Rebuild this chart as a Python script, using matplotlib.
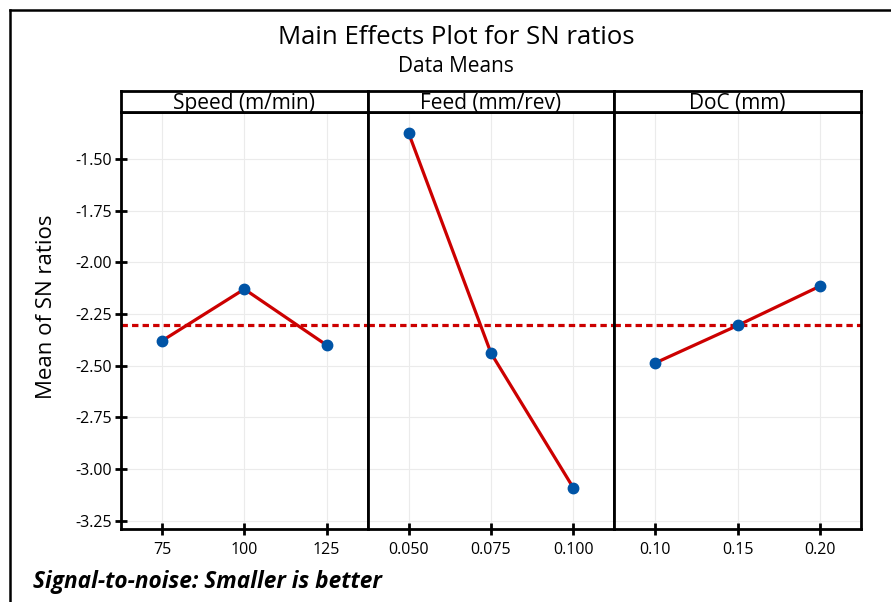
import matplotlib
matplotlib.use("Agg")
import matplotlib.pyplot as plt
import numpy as np
from matplotlib.lines import Line2D

# ---- data ----
factor_names = ["Speed (m/min)", "Feed (mm/rev)", "DoC (mm)"]
speed_levels = ["75", "100", "125"]
speed_sn = [-2.379, -2.129, -2.400]
feed_levels = ["0.050", "0.075", "0.100"]
feed_sn = [-1.376, -2.439, -3.090]
doc_levels = ["0.10", "0.15", "0.20"]
doc_sn = [-2.486, -2.305, -2.115]
y_ticks = [-1.50, -1.75, -2.00, -2.25, -2.50, -2.75, -3.00, -3.25]

levels = [speed_levels, feed_levels, doc_levels]
values = [speed_sn, feed_sn, doc_sn]
overall_mean = float(np.mean(speed_sn + feed_sn + doc_sn))

plt.rcParams['font.family'] = ['Open Sans', 'DejaVu Sans']

W, H = 891, 602
fig = plt.figure(figsize=(W / 100, H / 100), dpi=100)

left_px, right_px = 121, 861
top_px, bottom_px = 112, 529
strip_top_px = 91
panel_w = (right_px - left_px) / 3

red = "#CC0000"
blue = "#0054A6"

axes = []
for i in range(3):
    x0 = (left_px + i * panel_w) / W
    ax = fig.add_axes([x0, 1 - bottom_px / H, panel_w / W, (bottom_px - top_px) / H])
    axes.append(ax)
    xs = np.arange(len(levels[i]))
    ax.axhline(overall_mean, color=red, lw=2.3, ls=(0, (2.0, 1.3)), zorder=2)
    ax.plot(xs, values[i], color=red, lw=2.3, zorder=3)
    ax.plot(xs, values[i], 'o', color=blue, ms=7.5, zorder=4)
    ax.set_xlim(-0.5, 2.5)
    ax.set_ylim(-3.29, -1.272)
    ax.set_xticks(xs)
    ax.set_xticklabels(levels[i], fontsize=11.5)
    ax.set_yticks(y_ticks)
    ax.grid(True, color="#EBEBEB", lw=0.8, zorder=0)
    ax.set_axisbelow(True)
    for s in ax.spines.values():
        s.set_linewidth(2.0)
        s.set_color("black")
    ax.tick_params(axis='x', direction='inout', length=9, width=2.0, pad=5)
    if i == 0:
        ax.set_yticklabels([f"{v:.2f}" for v in y_ticks], fontsize=11.5)
        ax.tick_params(axis='y', direction='inout', length=9, width=2.0, pad=2)
        ax.set_ylabel("Mean of SN ratios", fontsize=16)
        ax.yaxis.set_label_coords(-0.26, 0.532)
    else:
        ax.tick_params(axis='y', left=False, labelleft=False)

    # strip
    sax = fig.add_axes([x0, 1 - top_px / H, panel_w / W, (top_px - strip_top_px) / H])
    sax.set_xticks([])
    sax.set_yticks([])
    for s in sax.spines.values():
        s.set_linewidth(2.0)
        s.set_color("black")
    sax.text(0.5, 0.40, factor_names[i], ha='center', va='center', fontsize=15,
             transform=sax.transAxes)

fig.text(456 / W, 1 - 38 / H, "Main Effects Plot for SN ratios", ha='center', va='center',
         fontsize=18.5)
fig.text(456 / W, 1 - 66 / H, "Data Means", ha='center', va='center', fontsize=15)
fig.text(33 / W, 1 - 582 / H, "Signal-to-noise: Smaller is better", ha='left', va='center',
         fontsize=16.3, fontweight='bold', fontstyle='italic')

# outer frame (left and top visible)
fig.add_artist(Line2D([10 / W, 10 / W], [0, 1 - 10 / H], color='black', lw=1.8,
                      transform=fig.transFigure))
fig.add_artist(Line2D([10 / W, 1], [1 - 10 / H, 1 - 10 / H], color='black', lw=1.8,
                      transform=fig.transFigure))

fig.savefig("out.png", dpi=100)
